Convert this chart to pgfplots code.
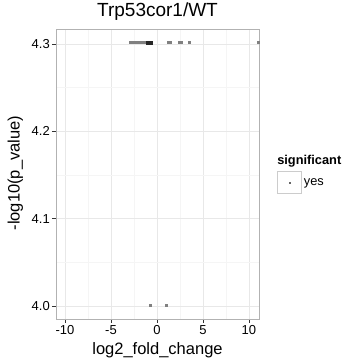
\documentclass[border=0pt]{standalone}
\usepackage{pgfplots}
\pgfplotsset{compat=1.18}
\usepackage{fontspec}
\setmainfont{Liberation Sans}
\begin{document}
\begin{tikzpicture}[x=1pt,y=1pt]
\useasboundingbox (0,0) rectangle (344,362);
\begin{axis}[
  at={(56pt,43pt)}, anchor=south west,
  scale only axis, width=203pt, height=290pt,
  xmin=-10.98, xmax=11.09, ymin=3.985, ymax=4.317,
  xtick={-10,-5,0,5,10}, minor xtick={-7.5,-2.5,2.5,7.5},
  ytick={4.0,4.1,4.2,4.3}, minor ytick={4.05,4.15,4.25},
  grid=both,
  major grid style={draw=black!9, line width=0.5pt},
  minor grid style={draw=black!4, line width=0.4pt},
  axis line style={draw=black!30, line width=0.9pt},
  xtick pos=lower, ytick pos=left,
  tick align=outside, major tick length=4pt, minor tick length=0pt,
  major tick style={draw=black!80, line width=0.6pt},
  /pgf/number format/assume math mode=true,
  yticklabel style={/pgf/number format/fixed, /pgf/number format/fixed zerofill, /pgf/number format/precision=1, font=\fontsize{13}{15}\selectfont, inner sep=2pt},
  xticklabel style={font=\fontsize{13}{15}\selectfont, inner sep=2pt},
  title={Trp53cor1/WT},
  title style={at={(axis description cs:0.5,1.041)}, anchor=center, font=\fontsize{19}{22}\selectfont},
  xlabel={log2\_fold\_change},
  xlabel style={at={(axis description cs:0.5,-0.107)}, anchor=center, font=\fontsize{16.5}{19}\selectfont},
  ylabel={-log10(p\_value)},
  ylabel style={at={(axis description cs:-0.2,0.503)}, anchor=center, rotate=0, font=\fontsize{16.5}{19}\selectfont},
  legend style={at={(axis description cs:1.089,0.51)}, anchor=north west, draw=none, fill=none, inner sep=0pt, font=\fontsize{12.8}{15}\selectfont, /tikz/every even column/.append style={column sep=2pt}},
  legend image code/.code={\draw[black!20, fill=white, line width=0.6pt] (0pt,-11pt) rectangle (24pt,11pt); \fill[black!60] (11.3pt,-0.7pt) rectangle (12.7pt,0.7pt);},
  clip=false,
]
\addplot[only marks, mark=square*, mark size=1.0pt, color=black!50, mark options={line width=0pt, fill=black!50, draw=black!50}] coordinates {
(-2.93,4.30103) (-2.72,4.30103) (-2.5,4.30103) (-2.3,4.30103)
(-1.96,4.30103) (-1.75,4.30103) (-1.55,4.30103) (-1.35,4.30103)
(1.3,4.30103) (1.42,4.30103) (2.4,4.30103) (2.62,4.30103) (3.5,4.30103) (11.09,4.30103)
(-0.76,4.0) (0.98,4.0)
};
\addlegendentry{yes}
\addplot[only marks, mark=square*, mark size=1.2pt, color=black!85, mark options={line width=0pt, fill=black!85, draw=black!85}, forget plot] coordinates {
(-0.98,4.30103) (-0.85,4.30103) (-0.72,4.30103) (-0.6,4.30103)
};
\node[anchor=base west, font=\fontsize{12.8}{15}\selectfont\bfseries, inner sep=0pt] at (axis description cs:1.089,0.534) {significant};
\end{axis}
\end{tikzpicture}
\end{document}
